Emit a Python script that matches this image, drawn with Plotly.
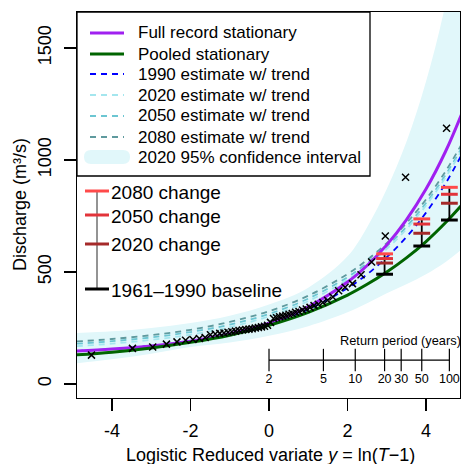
import numpy as np
import plotly.graph_objects as go

# ---------------- data ----------------
# reduced variate grid at which fitted curves were read
y_grid = [-4.9, -4, -3, -2, -1, 0, 1, 2, 2.5, 3, 3.5, 4, 4.5, 4.9]
q_full_stat = [147, 156, 170, 191, 224, 272, 345, 455, 529, 621, 733, 870, 1039, 1202]
q_pooled_stat = [130, 142, 161, 186, 218, 262, 320, 397, 445, 500, 563, 636, 721, 797]
q_1990 = [147, 156, 171, 192, 223, 268, 333, 428, 490, 566, 656, 765, 896, 1021]
q_2020 = [169, 180, 197, 220, 254, 302, 370, 466, 529, 603, 691, 797, 923, 1040]
q_2050 = [180, 191, 208, 232, 265, 313, 381, 477, 540, 614, 702, 808, 934, 1051]
q_2080 = [190, 201, 218, 242, 277, 325, 394, 491, 554, 629, 718, 824, 950, 1068]
ci_2020_lower = [92, 110, 135, 165, 185, 215, 258, 320, 360, 405, 445, 490, 545, 600]
ci_2020_upper = [228, 235, 250, 272, 305, 355, 430, 570, 700, 870, 1080, 1350, 1700, 2100]

# observed annual maxima (plotting positions, reduced variate) and discharge
obs_y = [-4.523, -3.479, -2.963, -2.613, -2.345, -2.125, -1.938, -1.774, -1.627, -1.493,
         -1.370, -1.255, -1.147, -1.045, -0.948, -0.854, -0.764, -0.677, -0.592, -0.510,
         -0.429, -0.349, -0.270, -0.192, -0.115, -0.038,
         0.038, 0.115, 0.192, 0.270, 0.349, 0.429, 0.510, 0.592, 0.677, 0.764,
         0.854, 0.948, 1.045, 1.147, 1.255, 1.370, 1.493, 1.627, 1.774, 1.938,
         2.125, 2.345, 2.613, 2.963, 3.479, 4.523]
obs_q = [129, 159, 165, 178, 188, 195, 199, 203, 208, 220,
         223, 226, 228, 231, 233, 236, 239, 241, 243, 245,
         247, 250, 252, 255, 258, 262,
         275, 292, 296, 300, 303, 307, 311, 315, 320, 324,
         330, 335, 342, 350, 356, 364, 374, 388, 416, 432,
         448, 488, 545, 661, 923, 1142]

# change bars at selected return periods
bar_rp = [20, 50, 100]
bar_baseline = [490, 616, 732]
bar_2020 = [540, 673, 807]
bar_2050 = [560, 714, 847]
bar_2080 = [581, 737, 878]

# return-period inset axis
rp_ticks = [2, 5, 10, 20, 30, 50, 100]
rp_labels = ["2", "5", "10", "20", "30", "50", "100"]

x_tickvals = [-4, -2, 0, 2, 4]
x_ticktext = ["-4", "-2", "0", "2", "4"]
y_tickvals = [0, 500, 1000, 1500]
y_ticktext = ["0", "500", "1000", "1500"]

legend_labels = ["Full record stationary", "Pooled stationary", "1990 estimate w/ trend",
                 "2020 estimate w/ trend", "2050 estimate w/ trend", "2080 estimate w/ trend",
                 "2020 95% confidence interval"]
change_labels = ["2080 change", "2050 change", "2020 change", "1961\u20131990 baseline"]

# ---------------- styles ----------------
FONT = "Liberation Sans, Arial, sans-serif"
C_FULL = "#A020F0"
C_POOL = "#006400"
C_1990 = "#0000FF"
C_2020 = "#A4E6EE"
C_2050 = "#6CC6D2"
C_2080 = "#5F9A9E"
C_CI = "#E1F7FA"
C_R2080 = "#FF4A4A"
C_R2050 = "#E2343A"
C_R2020 = "#A52A2A"
DASH = "6px,5px"

W, H = 462, 464
L, R, T, B = 77, 460, 12, 398  # plot area in pixels


def px(x):
    return (x - L) / (R - L)


def py(y):
    return (B - y) / (B - T)


fig = go.Figure()

# CI band
fig.add_trace(go.Scatter(x=y_grid, y=ci_2020_lower, mode="lines", line=dict(width=0, shape="spline"),
                         showlegend=False, hoverinfo="skip"))
fig.add_trace(go.Scatter(x=y_grid, y=ci_2020_upper, mode="lines", line=dict(width=0, shape="spline"),
                         fill="tonexty", fillcolor=C_CI, showlegend=False, hoverinfo="skip"))

# trend estimates
for q, c in [(q_2080, C_2080), (q_2050, C_2050), (q_2020, C_2020), (q_1990, C_1990)]:
    fig.add_trace(go.Scatter(x=y_grid, y=q, mode="lines",
                             line=dict(color=c, width=1.8, dash=DASH, shape="spline"),
                             showlegend=False))

fig.add_trace(go.Scatter(x=y_grid, y=q_full_stat, mode="lines",
                         line=dict(color=C_FULL, width=3, shape="spline"), showlegend=False))
fig.add_trace(go.Scatter(x=y_grid, y=q_pooled_stat, mode="lines",
                         line=dict(color=C_POOL, width=3, shape="spline"), showlegend=False))

# observations
fig.add_trace(go.Scatter(x=obs_y, y=obs_q, mode="markers",
                         marker=dict(symbol="x-thin", size=7, line=dict(color="black", width=1.5)),
                         showlegend=False))

# change bars
bar_x = [float(np.log(t - 1)) for t in bar_rp]
vx, vy = [], []
for xx, b0, b1 in zip(bar_x, bar_baseline, bar_2080):
    vx += [xx, xx, None]
    vy += [b0, b1, None]
fig.add_trace(go.Scatter(x=vx, y=vy, mode="lines", line=dict(color="black", width=1.8),
                         showlegend=False))
for vals, c in [(bar_baseline, "black"), (bar_2020, C_R2020), (bar_2050, C_R2050), (bar_2080, C_R2080)]:
    fig.add_trace(go.Scatter(x=bar_x, y=vals, mode="markers",
                             marker=dict(symbol="line-ew", size=12, line=dict(color=c, width=3)),
                             showlegend=False))

# return period inset axis
rp_x = [float(np.log(t - 1)) for t in rp_ticks]
RP_LINE_Q = 107
RP_LABEL_Q = 18
fig.add_trace(go.Scatter(x=[rp_x[0], rp_x[-1]], y=[RP_LINE_Q, RP_LINE_Q], mode="lines",
                         line=dict(color="black", width=1.2), showlegend=False))
fig.add_trace(go.Scatter(x=rp_x, y=[RP_LINE_Q] * len(rp_x), mode="markers",
                         marker=dict(symbol="line-ns", size=16, line=dict(color="black", width=1.2)),
                         showlegend=False))
fig.add_trace(go.Scatter(x=rp_x, y=[RP_LABEL_Q] * len(rp_x), mode="text",
                         text=rp_labels, textposition="middle center",
                         textfont=dict(family=FONT, size=12.5, color="black"),
                         showlegend=False))

shapes = []
ann = []

# main legend box
shapes.append(dict(type="rect", xref="paper", yref="paper", x0=px(77), x1=px(370), y0=py(176), y1=py(12),
                   line=dict(color="black", width=1.3), fillcolor="white", layer="above"))
rows = [33, 54, 74, 95, 116, 137, 157]
styles = [(C_FULL, 3, "solid"), (C_POOL, 3, "solid"), (C_1990, 1.8, DASH), (C_2020, 1.8, DASH),
          (C_2050, 1.8, DASH), (C_2080, 1.8, DASH)]
for r, (c, w, d) in zip(rows[:6], styles):
    shapes.append(dict(type="line", xref="paper", yref="paper", x0=px(90), x1=px(124), y0=py(r), y1=py(r),
                       line=dict(color=c, width=w, dash=d), layer="above"))
# rounded CI sample
r = rows[6]
x0, x1, h = 84, 130, 7
rad = 7
path = (f"M {px(x0+rad)},{py(r-h)} L {px(x1-rad)},{py(r-h)} Q {px(x1)},{py(r-h)} {px(x1)},{py(r)} "
        f"Q {px(x1)},{py(r+h)} {px(x1-rad)},{py(r+h)} L {px(x0+rad)},{py(r+h)} "
        f"Q {px(x0)},{py(r+h)} {px(x0)},{py(r)} Q {px(x0)},{py(r-h)} {px(x0+rad)},{py(r-h)} Z")
shapes.append(dict(type="path", xref="paper", yref="paper", path=path, fillcolor=C_CI,
                   line=dict(width=0), layer="above"))
for r, lab in zip(rows, legend_labels):
    ann.append(dict(xref="paper", yref="paper", x=px(136), y=py(r), text=lab, showarrow=False,
                    xanchor="left", yanchor="middle", font=dict(family=FONT, size=17, color="black")))

# change legend
crow = [191, 215, 244, 289]
shapes.append(dict(type="line", xref="paper", yref="paper", x0=px(97), x1=px(97), y0=py(crow[0]), y1=py(crow[-1]),
                   line=dict(color="#707070", width=1.5), layer="above"))
for r, c in zip(crow, [C_R2080, C_R2050, C_R2020, "black"]):
    shapes.append(dict(type="line", xref="paper", yref="paper", x0=px(85), x1=px(109), y0=py(r), y1=py(r),
                       line=dict(color=c, width=3), layer="above"))
for r, lab in zip(crow, change_labels):
    ann.append(dict(xref="paper", yref="paper", x=px(109), y=py(r + 1), text=lab, showarrow=False,
                    xanchor="left", yanchor="middle", font=dict(family=FONT, size=19, color="black")))

# inset title
ann.append(dict(xref="paper", yref="y", x=px(463), y=196, text="Return period (years)", showarrow=False,
                xanchor="right", yanchor="middle", font=dict(family=FONT, size=12.8, color="black")))

# axis titles
ann.append(dict(xref="paper", yref="paper", x=px(270), y=py(455),
                text="Logistic Reduced variate <i>y</i> = ln(<i>T</i>\u22121)", showarrow=False,
                xanchor="center", yanchor="middle", font=dict(family=FONT, size=18, color="black")))
ann.append(dict(xref="paper", yref="paper", x=px(20), y=py(205), text="Discharge (m\u00b3/s)", textangle=-90,
                showarrow=False, xanchor="center", yanchor="middle", font=dict(family=FONT, size=18, color="black")))

fig.update_layout(
    width=W, height=H, autosize=False,
    margin=dict(l=L, r=W - R, t=T, b=H - B, pad=0),
    paper_bgcolor="white", plot_bgcolor="white",
    showlegend=False,
    font=dict(family=FONT, size=18, color="black"),
    shapes=shapes, annotations=ann,
    xaxis=dict(range=[-4.892, 4.866], showgrid=False, zeroline=False, showline=True, mirror=True,
               linecolor="black", linewidth=1.3, ticks="outside", ticklen=12, tickwidth=1.3,
               tickcolor="black", tickvals=x_tickvals, ticktext=x_ticktext, automargin=False,
               tickfont=dict(family=FONT, size=18), ticklabelstandoff=4),
    yaxis=dict(range=[-62.5, 1660.7], showgrid=False, zeroline=False, showline=True, mirror=True,
               linecolor="black", linewidth=1.3, ticks="outside", ticklen=12, tickwidth=1.3,
               tickcolor="black", tickvals=y_tickvals, ticktext=y_ticktext, tickangle=-90, automargin=False,
               tickfont=dict(family=FONT, size=18), ticklabelstandoff=6),
)

fig.write_html("out.html", config={"displayModeBar": False, "staticPlot": True},
               post_script="document.body.style.margin='0';document.body.style.padding='0';"
                           "document.body.style.overflow='hidden';")
